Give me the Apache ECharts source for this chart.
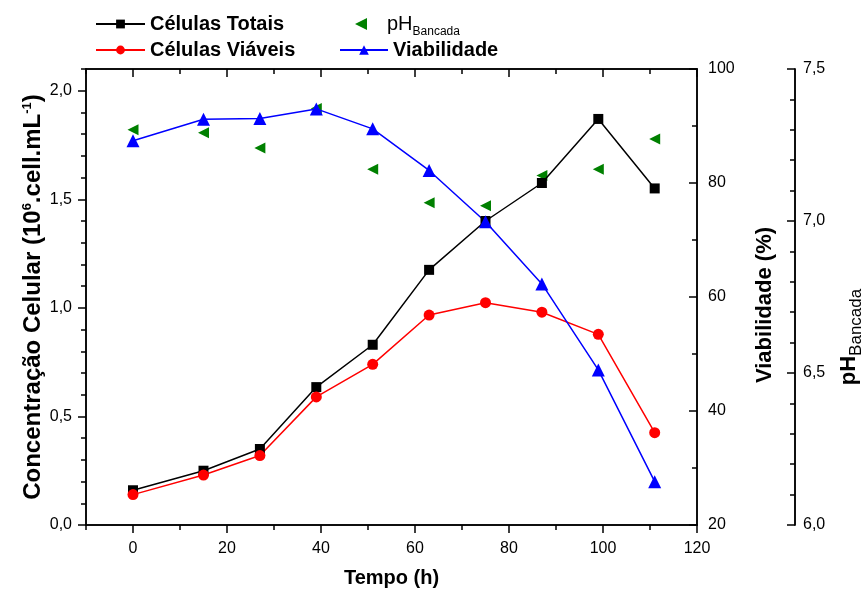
<!DOCTYPE html>
<html lang="pt">
<head>
<meta charset="utf-8">
<script src="https://cdn.jsdelivr.net/npm/echarts@6/dist/echarts.min.js"></script>
<style>
    html, body { margin: 0; padding: 0; background: #fff; }
    #main { width: 864px; height: 594px; }
</style>
</head>
<body>
<div id="main"></div>
<script>
    // dados
    var tempo = [0, 15, 27, 39, 51, 63, 75, 87, 99, 111];
    var celulasTotais = [0.16, 0.25, 0.35, 0.635, 0.83, 1.175, 1.40, 1.575, 1.87, 1.55];
    var celulasViaveis = [0.14, 0.23, 0.32, 0.59, 0.74, 0.967, 1.024, 0.98, 0.878, 0.425];
    var viabilidade = [87.4, 91.2, 91.3, 93.0, 89.5, 82.2, 73.2, 62.3, 47.2, 27.6];
    var phBancada = [7.30, 7.29, 7.24, 7.37, 7.17, 7.06, 7.05, 7.15, 7.17, 7.27];

    var xMajor = [0, 20, 40, 60, 80, 100, 120];
    var xMinor = [-10, 10, 30, 50, 70, 90, 110];
    var yMajor = [0, 0.5, 1.0, 1.5, 2.0];
    var yMinor = [0.1, 0.2, 0.3, 0.4, 0.6, 0.7, 0.8, 0.9, 1.1, 1.2, 1.3, 1.4, 1.6, 1.7, 1.8, 1.9, 2.1];
    var viabMajor = [20, 40, 60, 80, 100];
    var viabMinor = [30, 50, 70, 90];
    var phMajor = [6.0, 6.5, 7.0, 7.5];
    var phMinor = [6.1, 6.2, 6.3, 6.4, 6.6, 6.7, 6.8, 6.9, 7.1, 7.2, 7.3, 7.4];

    var FONT = 'Liberation Sans';

    function pares(xs, ys) {
        var res = [];
        for (var i = 0; i < xs.length; i++) {
            res.push([xs[i], ys[i]]);
        }
        return res;
    }

    function virgula(v) {
        return v.toFixed(1).replace('.', ',');
    }

    var linhaEixo = { show: true, onZero: false, lineStyle: { color: '#000', width: 1.5 } };

    function eixoX(pos, valores, tam, inside, label, extra) {
        var ax = {
            type: 'value', position: pos, min: -10, max: 120,
            axisLine: linhaEixo,
            axisTick: { show: true, customValues: valores, length: tam, inside: inside, lineStyle: { color: '#000', width: 1.5 } },
            axisLabel: label ? { show: true, customValues: valores, color: '#000', fontFamily: FONT, fontSize: 16, margin: 16 } : { show: false },
            splitLine: { show: false }
        };
        for (var k in extra || {}) ax[k] = extra[k];
        return ax;
    }

    function eixoY(pos, min, max, valores, tam, inside, label, extra) {
        var ax = {
            type: 'value', position: pos, min: min, max: max,
            axisLine: linhaEixo,
            axisTick: { show: true, customValues: valores, length: tam, inside: inside, lineStyle: { color: '#000', width: 1.5 } },
            axisLabel: label || { show: false },
            splitLine: { show: false }
        };
        for (var k in extra || {}) ax[k] = extra[k];
        return ax;
    }

    var legendaTexto = { fontFamily: FONT, fontSize: 20, fontWeight: 'bold', color: '#000' };

    var option = {
        animation: false,
        textStyle: { fontFamily: FONT },
        grid: { left: 86, right: 167, top: 69, bottom: 69, outerBoundsMode: 'none', containLabel: false },
        legend: [
            { data: ['Células Totais'], left: 90, top: 9, itemWidth: 49, itemHeight: 11, textStyle: legendaTexto },
            { data: ['Células Viáveis'], left: 90, top: 35, itemWidth: 49, itemHeight: 11, textStyle: legendaTexto },
            { data: [{ name: 'pH', icon: 'path://M0,5 L10,0 L10,10 Z' }], left: 350, top: 9, itemWidth: 12, itemHeight: 12,
              formatter: function () { return '{a|pH}{b|Bancada}'; },
              textStyle: { fontFamily: FONT, color: '#000',
                  rich: { a: { fontFamily: FONT, fontSize: 20, color: '#000', padding: [0, 0, 0, 15] },
                          b: { fontFamily: FONT, fontSize: 12, color: '#000', padding: [16, 0, 0, 0] } } } },
            { data: ['Viabilidade'], left: 334, top: 35, itemWidth: 48, itemHeight: 12, textStyle: legendaTexto }
        ],
        xAxis: [
            eixoX('bottom', xMajor, 8, false, true, {
                name: 'Tempo (h)', nameLocation: 'middle', nameGap: 43,
                nameTextStyle: { fontFamily: FONT, fontSize: 20, fontWeight: 'bold', color: '#000' }
            }),
            eixoX('bottom', xMinor, 5, false, false),
            eixoX('top', xMajor, 8, true, false),
            eixoX('top', xMinor, 5, true, false)
        ],
        yAxis: [
            eixoY('left', 0, 2.1, yMajor, 8, false,
                { show: true, customValues: yMajor, color: '#000', fontFamily: FONT, fontSize: 16, margin: 14, formatter: virgula }, {
                name: '{t|Concentração Celular (10}{s|6}{t|.cell.mL}{s|-1}{t|)}',
                nameLocation: 'middle', nameGap: 40, nameMoveOverlap: false,
                nameTextStyle: { rich: {
                    t: { fontFamily: FONT, fontSize: 24, fontWeight: 'bold', color: '#000' },
                    s: { fontFamily: FONT, fontSize: 13, fontWeight: 'bold', color: '#000', padding: [0, 0, 12, 0] }
                } }
            }),
            eixoY('left', 0, 2.1, yMinor, 5, false, null),
            eixoY('right', 20, 100, viabMajor, 8, true,
                { show: true, customValues: viabMajor, color: '#000', fontFamily: FONT, fontSize: 16, margin: 11 }, {
                name: 'Viabilidade (%)', nameLocation: 'middle', nameGap: 57,
                nameTextStyle: { fontFamily: FONT, fontSize: 22, fontWeight: 'bold', color: '#000', padding: [0, 16, 0, 0] }
            }),
            eixoY('right', 20, 100, viabMinor, 5, true, null),
            eixoY('right', 6.0, 7.5, phMajor, 8, true,
                { show: true, customValues: phMajor, color: '#000', fontFamily: FONT, fontSize: 16, margin: 8, formatter: virgula }, {
                offset: 98,
                name: '{a|pH}{b|Bancada}', nameLocation: 'middle', nameGap: 37,
                nameTextStyle: { padding: [0, 80, 0, 0], rich: {
                    a: { fontFamily: FONT, fontSize: 22, fontWeight: 'bold', color: '#000' },
                    b: { fontFamily: FONT, fontSize: 17, color: '#000', padding: [16, 0, 0, 0] }
                } }
            }),
            eixoY('right', 6.0, 7.5, phMinor, 5, true, null, { offset: 98 })
        ],
        series: [
            {
                name: 'Células Totais', type: 'line', xAxisIndex: 0, yAxisIndex: 0,
                data: pares(tempo, celulasTotais),
                symbol: 'rect', symbolSize: 10,
                lineStyle: { color: '#000', width: 1.5 },
                itemStyle: { color: '#000' }
            },
            {
                name: 'Células Viáveis', type: 'line', xAxisIndex: 0, yAxisIndex: 0,
                data: pares(tempo, celulasViaveis),
                symbol: 'circle', symbolSize: 11,
                lineStyle: { color: '#ff0000', width: 1.5 },
                itemStyle: { color: '#ff0000' }
            },
            {
                name: 'pH', type: 'scatter', xAxisIndex: 0, yAxisIndex: 4,
                data: pares(tempo, phBancada),
                symbol: 'triangle', symbolRotate: 90, symbolSize: [11, 11],
                itemStyle: { color: '#008000', opacity: 1 }
            },
            {
                name: 'Viabilidade', type: 'line', xAxisIndex: 0, yAxisIndex: 2,
                data: pares(tempo, viabilidade),
                symbol: 'triangle', symbolSize: 13,
                lineStyle: { color: '#0000ff', width: 1.5 },
                itemStyle: { color: '#0000ff' }
            }
        ]
    };

    var myChart = echarts.init(document.getElementById('main'));
    myChart.setOption(option);
</script>
</body>
</html>
